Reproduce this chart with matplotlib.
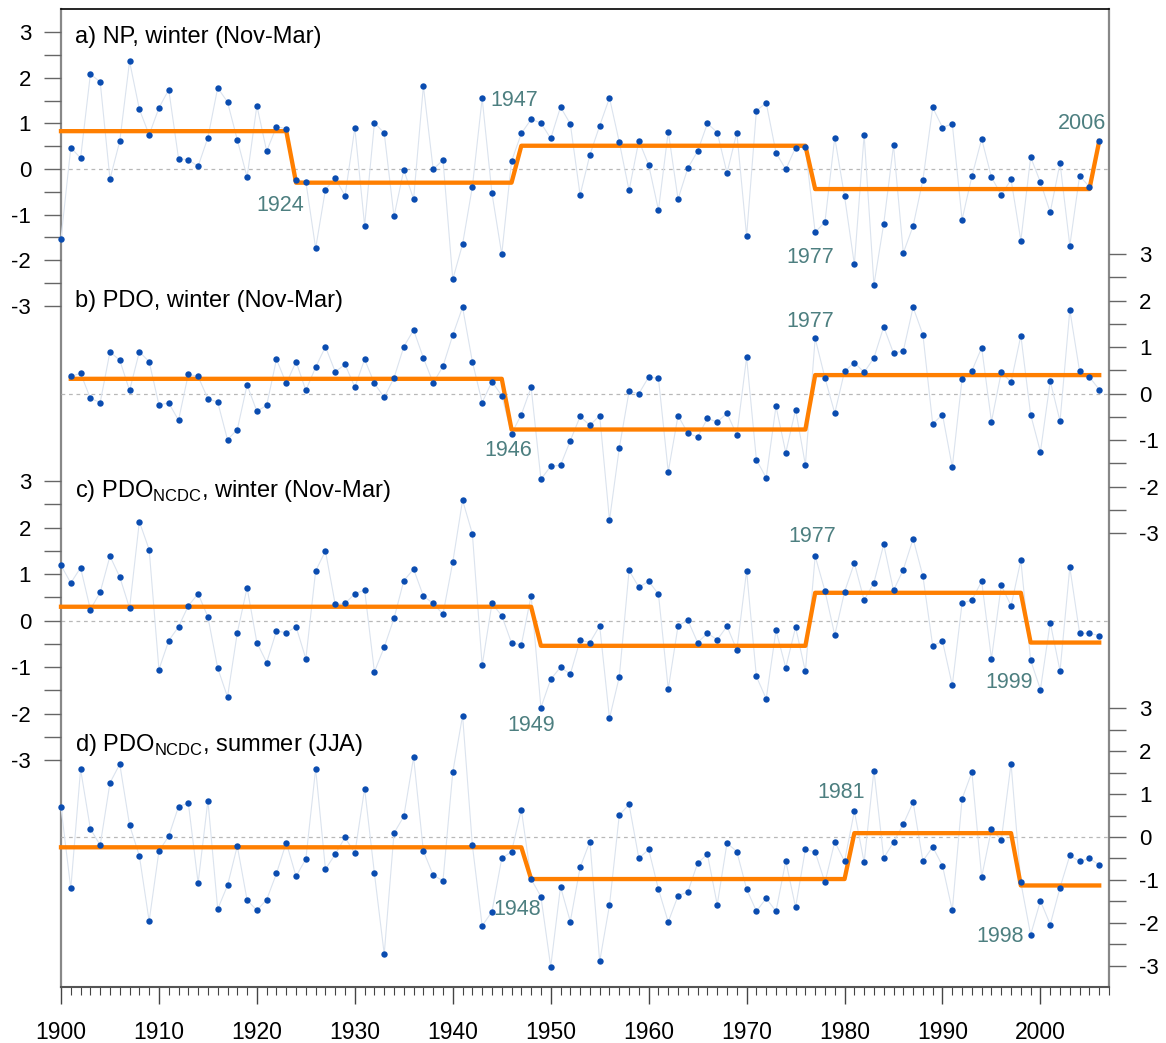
import matplotlib
matplotlib.use('Agg')
import matplotlib.pyplot as plt
import numpy as np

plt.rcParams['font.family'] = ['Liberation Sans', 'DejaVu Sans']
plt.rcParams['mathtext.fontset'] = 'custom'
plt.rcParams['mathtext.rm'] = 'Liberation Sans'
plt.rcParams['axes.unicode_minus'] = False

# ---- data ----
np_years = np.arange(1900, 2007)
np_winter = [
    -1.53, 0.47, 0.24, 2.08, 1.91, -0.22, 0.61, 2.36, 1.31, 0.75,
    1.34, 1.74, 0.23, 0.20, 0.06, 0.69, 1.78, 1.47, 0.64, -0.18,
    1.39, 0.39, 0.93, 0.88, -0.24, -0.28, -1.74, -0.45, -0.20, -0.59,
    0.90, -1.24, 1.01, 0.79, -1.04, -0.02, -0.66, 1.82, -0.01, 0.20,
    -2.42, -1.65, -0.39, 1.55, -0.53, -1.87, 0.17, 0.78, 1.09, 1.01,
    0.67, 1.36, 0.99, -0.57, 0.31, 0.95, 1.56, 0.59, -0.47, 0.62,
    0.09, -0.90, 0.82, -0.66, 0.02, 0.39, 1.00, 0.80, -0.09, 0.80,
    -1.47, 1.28, 1.45, 0.36, -0.01, 0.47, 0.48, -1.39, -1.16, 0.69,
    -0.60, -2.09, 0.75, -2.54, -1.20, 0.52, -1.84, -1.25, -0.24, 1.35,
    0.91, 0.99, -1.11, -0.16, 0.66, -0.18, -0.57, -0.23, -1.57, 0.26,
    -0.29, -0.95, 0.13, -1.68, -0.15, -0.39, 0.61]
np_shift_years = [1900, 1924, 1947, 1977, 2006]
np_shift_levels = [0.83, -0.30, 0.51, -0.44, 0.61]

pdo_years = np.arange(1901, 2007)
pdo_winter = [
    0.37, 0.44, -0.10, -0.19, 0.90, 0.72, 0.07, 0.90, 0.69,
    -0.24, -0.20, -0.57, 0.42, 0.37, -0.11, -0.18, -0.99, -0.77, 0.19,
    -0.38, -0.25, 0.74, 0.22, 0.69, 0.07, 0.57, 1.01, 0.47, 0.63,
    0.14, 0.74, 0.22, -0.08, 0.34, 1.01, 1.37, 0.77, 0.23, 0.59,
    1.26, 1.86, 0.69, -0.19, 0.26, -0.04, -0.86, -0.45, 0.14, -1.84,
    -1.56, -1.54, -1.01, -0.49, -0.68, -0.47, -2.72, -1.17, 0.05, 0.00,
    0.36, 0.33, -1.68, -0.47, -0.85, -0.93, -0.53, -0.61, -0.42, -0.89,
    0.78, -1.42, -1.81, -0.27, -1.27, -0.34, -1.53, 1.19, 0.34, -0.42,
    0.48, 0.67, 0.46, 0.77, 1.44, 0.87, 0.92, 1.86, 1.27, -0.65,
    -0.45, -1.58, 0.32, 0.49, 0.99, -0.60, 0.46, 0.25, 1.25, -0.45,
    -1.25, 0.27, -0.59, 1.80, 0.48, 0.36, 0.09]
pdo_shift_years = [1901, 1946, 1977]
pdo_shift_levels = [0.32, -0.77, 0.40]

ncdc_years = np.arange(1900, 2007)
ncdc_winter = [
    1.19, 0.81, 1.14, 0.24, 0.61, 1.39, 0.94, 0.27, 2.13, 1.53,
    -1.05, -0.43, -0.13, 0.32, 0.58, 0.08, -1.02, -1.64, -0.26, 0.71,
    -0.47, -0.90, -0.22, -0.26, -0.13, -0.82, 1.07, 1.50, 0.35, 0.37,
    0.58, 0.66, -1.10, -0.57, 0.05, 0.86, 1.11, 0.53, 0.37, 0.14,
    1.26, 2.59, 1.87, -0.96, 0.37, 0.11, -0.48, -0.52, 0.54, -1.87,
    -1.26, -1.00, -1.15, -0.42, -0.47, -0.11, -2.10, -1.21, 1.08, 0.72,
    0.85, 0.57, -1.47, -0.11, 0.01, -0.47, -0.27, -0.41, -0.12, -0.63,
    1.07, -1.20, -1.68, -0.21, -1.01, -0.14, -1.09, 1.39, 0.64, -0.31,
    0.62, 1.24, 0.44, 0.82, 1.64, 0.65, 1.10, 1.76, 0.96, -0.54,
    -0.44, -1.39, 0.38, 0.44, 0.85, -0.82, 0.76, 0.32, 1.30, -0.85,
    -1.48, -0.04, -1.08, 1.15, -0.27, -0.27, -0.32]
ncdc_winter_shift_years = [1900, 1949, 1977, 1999]
ncdc_winter_shift_levels = [0.30, -0.54, 0.60, -0.47]

ncdc_summer = [
    0.69, -1.20, 1.58, 0.19, -0.19, 1.26, 1.70, 0.28, -0.44, -1.96,
    -0.33, 0.02, 0.71, 0.79, -1.07, 0.85, -1.68, -1.13, -0.21, -1.47,
    -1.71, -1.46, -0.85, -0.13, -0.92, -0.51, 1.59, -0.75, -0.40, -0.01,
    -0.38, 1.13, -0.85, -2.73, 0.09, 0.48, 1.86, -0.33, -0.89, -1.02,
    1.51, 2.83, -0.19, -2.07, -1.74, -0.50, -0.34, 0.64, -0.98, -1.39,
    -3.02, -1.16, -1.97, -0.71, -0.11, -2.90, -1.59, 0.51, 0.76, -0.50,
    -0.29, -1.22, -1.98, -1.37, -1.28, -0.61, -0.40, -1.58, -0.14, -0.34,
    -1.21, -1.73, -1.43, -1.73, -0.56, -1.64, -0.29, -0.35, -1.06, -0.11,
    -0.57, 0.60, -0.59, 1.55, -0.49, -0.12, 0.30, 0.81, -0.56, -0.23,
    -0.67, -1.71, 0.89, 1.51, -0.93, 0.18, -0.07, 1.71, -1.06, -2.28,
    -1.49, -2.04, -1.18, -0.43, -0.57, -0.50, -0.65]
ncdc_summer_shift_years = [1900, 1948, 1981, 1998]
ncdc_summer_shift_levels = [-0.24, -0.98, 0.09, -1.13]

# ---- layout (pixels of a 1166 x 1043 canvas) ----
W, H = 1166, 1043
X_LEFT, X_RIGHT = 61, 1109
FRAME_TOP, FRAME_BOTTOM = 9, 987

BLUE = '#0a4cb0'
THIN = '#dbe3ee'
ORANGE = '#ff7f00'
TEAL = '#4d7f80'
GREY = '#888888'


def rect(top_px, bottom_px):
    return [X_LEFT / W, 1 - bottom_px / H, (X_RIGHT - X_LEFT) / W, (bottom_px - top_px) / H]


def regime(years, starts, levels):
    idx = np.searchsorted(starts, years, side='right') - 1
    return np.asarray(levels)[idx]


fig = plt.figure(figsize=(W / 100, H / 100), dpi=100)

# frame with the shared time axis
ax0 = fig.add_axes(rect(FRAME_TOP, FRAME_BOTTOM))
ax0.set_xlim(1900, 2007)
ax0.set_ylim(0, 1)
ax0.set_yticks([])
ax0.set_xticks(np.arange(1900, 2001, 10))
ax0.set_xticks(np.arange(1900, 2008, 1), minor=True)
ax0.tick_params(axis='x', which='major', length=12.5, width=1.0, color='#444444',
                labelsize=16.5, pad=12)
ax0.tick_params(axis='x', which='minor', length=5.5, width=0.8, color='#444444')
ax0.spines['top'].set_color('black')
ax0.spines['top'].set_linewidth(1.2)
for side in ('left', 'right'):
    ax0.spines[side].set_color(GREY)
    ax0.spines[side].set_linewidth(1.6)
ax0.spines['bottom'].set_color('#555555')
ax0.spines['bottom'].set_linewidth(1.5)

# panel: (years, values, shift starts, shift levels, zero px, px per unit, axis side, title, labels)
panels = [
    (np_years, np_winter, np_shift_years, np_shift_levels, 169.0, 45.6, 'left',
     'a) NP, winter (Nov-Mar)', 37,
     [(1922.4, -0.79, '1924'), (1946.3, 1.51, '1947'), (1976.5, -1.93, '1977'),
      (2004.2, 0.99, '2006')]),
    (pdo_years, pdo_winter, pdo_shift_years, pdo_shift_levels, 393.7, 46.5, 'right',
     'b) PDO, winter (Nov-Mar)', 301,
     [(1945.7, -1.23, '1946'), (1976.5, 1.56, '1977')]),
    (ncdc_years, ncdc_winter, ncdc_winter_shift_years, ncdc_winter_shift_levels, 620.7, 46.5, 'left',
     r'c) PDO$_{\mathrm{NCDC}}$, winter (Nov-Mar)', 491,
     [(1948.0, -2.26, '1949'), (1976.7, 1.80, '1977'), (1996.8, -1.32, '1999')]),
    (ncdc_years, ncdc_summer, ncdc_summer_shift_years, ncdc_summer_shift_levels, 837.0, 42.9, 'right',
     r'd) PDO$_{\mathrm{NCDC}}$, summer (JJA)', 745,
     [(1946.6, -1.70, '1948'), (1979.7, 1.03, '1981'), (1995.9, -2.31, '1998')]),
]

for years, vals, starts, levels, zero_px, scale, side, title, title_y, notes in panels:
    ax = fig.add_axes(rect(zero_px - 3 * scale, zero_px + 3 * scale))
    ax.patch.set_visible(False)
    ax.set_xlim(1900, 2007)
    ax.set_ylim(-3, 3)
    for s in ax.spines.values():
        s.set_visible(False)
    ax.tick_params(axis='x', which='both', bottom=False, labelbottom=False)
    if side == 'right':
        ax.yaxis.tick_right()
    ax.set_yticks(np.arange(-3, 4, 1))
    ax.set_yticks(np.arange(-2.5, 3.0, 1.0), minor=True)
    ax.tick_params(axis='y', which='both', direction='out', length=12.5, width=1.0,
                   color='#666666', labelsize=16, pad=9)

    ax.axhline(0, color='#b8b8b8', lw=0.9, ls=(0, (3, 3)), zorder=0)
    ax.plot(years, vals, color=THIN, lw=0.8, zorder=1, clip_on=False)
    ax.plot(years, regime(years, starts, levels), color=ORANGE, lw=3.1, zorder=2,
            clip_on=False)
    ax.plot(years, vals, 'o', ms=4.6, color=BLUE, mec='none', zorder=3, clip_on=False)

    for x, y, txt in notes:
        ax.text(x, y, txt, color=TEAL, fontsize=15.5, ha='center', va='center', zorder=4)

    fig.text(75 / W, 1 - title_y / H, title, fontsize=17, ha='left', va='center')

fig.savefig('out.png', dpi=100)
